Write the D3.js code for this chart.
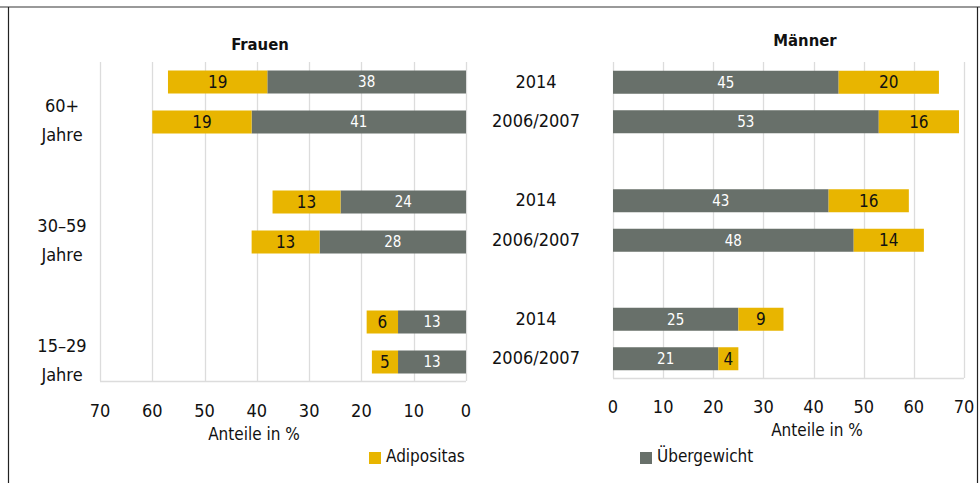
<!DOCTYPE html>
<html>
<head>
<meta charset="utf-8">
<script src="https://cdn.jsdelivr.net/npm/d3@7"></script>
<style>
    body { margin: 0; background: #fff; }
    svg { display: block; font-family: "DejaVu Sans Condensed", "Liberation Sans Narrow", sans-serif; }
</style>
</head>
<body>
<div id="chart"></div>
<script>

// Data
var groups = ['60+', '30–59', '15–29'];
var years = ['2014', '2006/2007'];
var frauenUeber = [38, 41, 24, 28, 13, 13];
var frauenAdipo = [19, 19, 13, 13, 6, 5];
var maennerUeber = [45, 53, 43, 48, 25, 21];
var maennerAdipo = [20, 16, 16, 14, 9, 4];
var xTicks = [0, 10, 20, 30, 40, 50, 60, 70];

// Set default values
var width = 980,
    height = 483,
    yellow = '#e8b500',
    grey = '#68706a',
    gridColor = '#dcdcdc',
    barHeight = 23
;

var svg = d3.select('#chart').append('svg')
    .attr('width', width)
    .attr('height', height)
;

// Frame
svg.append('line').attr('x1', 0).attr('x2', width).attr('y1', 7).attr('y2', 7)
    .attr('stroke', '#777').attr('stroke-width', 1.5);
svg.append('line').attr('x1', 8.5).attr('x2', 8.5).attr('y1', 7).attr('y2', height)
    .attr('stroke', '#222').attr('stroke-width', 1.2);
svg.append('line').attr('x1', 977.5).attr('x2', 977.5).attr('y1', 7).attr('y2', height)
    .attr('stroke', '#222').attr('stroke-width', 1.2);

// Build rows from the arrays
function rows(ueber, adipo) {
    var out = [];
    groups.forEach(function(g, gi) {
        years.forEach(function(y, yi) {
            var i = gi * years.length + yi;
            out.push({group: g, year: y, ueber: ueber[i], adipo: adipo[i]});
        });
    });
    return out;
}

// Inner scale for the two years inside one group
var inner = d3.scaleBand()
    .domain(years)
    .range([0, 120])
    .paddingInner(0.425)
    .paddingOuter(0.7125)
;

function panel(opts) {
    var x = d3.scaleLinear().domain([0, 70]).range(opts.xRange);
    var yGroup = d3.scaleBand().domain(groups).range(opts.yRange);
    var innerY = inner.copy().range([0, yGroup.bandwidth()]);
    var rowY = function(d) { return yGroup(d.group) + innerY(d.year) + (innerY.bandwidth() - barHeight) / 2; };
    var plotTop = 62, plotBottom = opts.bottom;

    var g = svg.append('g');

    // Grid lines
    g.selectAll('.grid').data(xTicks).enter().append('line')
        .attr('x1', function(d) { return Math.round(x(d)) + 0.5; })
        .attr('x2', function(d) { return Math.round(x(d)) + 0.5; })
        .attr('y1', plotTop).attr('y2', plotBottom)
        .attr('stroke', gridColor).attr('stroke-width', 1.3)
    ;
    g.append('line')
        .attr('x1', d3.min(opts.xRange)).attr('x2', d3.max(opts.xRange))
        .attr('y1', plotBottom + 0.5).attr('y2', plotBottom + 0.5)
        .attr('stroke', gridColor).attr('stroke-width', 1.3)
    ;

    // Tick labels
    g.selectAll('.tick').data(xTicks).enter().append('text')
        .attr('x', function(d) { return x(d); })
        .attr('y', opts.tickY)
        .attr('text-anchor', 'middle')
        .style('font-size', '18px')
        .attr('fill', '#111')
        .text(function(d) { return d; })
    ;

    // Axis title
    g.append('text')
        .attr('x', opts.axisTitleX).attr('y', opts.tickY + 23)
        .attr('text-anchor', 'middle')
        .style('font-size', '17px')
        .attr('fill', '#111')
        .text('Anteile in %')
    ;

    // Panel title
    g.append('text')
        .attr('x', opts.titleX).attr('y', opts.titleY)
        .attr('text-anchor', 'middle')
        .attr('font-weight', 'bold')
        .style('font-size', '16.5px')
        .attr('fill', '#111')
        .text(opts.title)
    ;

    var data = rows(opts.ueber, opts.adipo);
    var row = g.selectAll('.row').data(data).enter().append('g')
        .attr('transform', function(d) { return 'translate(0,' + rowY(d) + ')'; })
    ;

    // Übergewicht segment (from 0)
    row.append('rect')
        .attr('x', function(d) { return Math.min(x(0), x(d.ueber)); })
        .attr('width', function(d) { return Math.abs(x(d.ueber) - x(0)); })
        .attr('height', barHeight)
        .attr('fill', grey)
    ;
    // Adipositas segment (stacked)
    row.append('rect')
        .attr('x', function(d) { return Math.min(x(d.ueber), x(d.ueber + d.adipo)); })
        .attr('width', function(d) { return Math.abs(x(d.ueber + d.adipo) - x(d.ueber)); })
        .attr('height', barHeight)
        .attr('fill', yellow)
    ;
    row.append('text')
        .attr('x', function(d) { return x(d.ueber / 2); })
        .attr('y', barHeight / 2)
        .attr('dy', '0.36em')
        .attr('text-anchor', 'middle')
        .style('font-size', '15px')
        .attr('fill', '#fff')
        .text(function(d) { return d.ueber; })
    ;
    row.append('text')
        .attr('x', function(d) { return x(d.ueber + d.adipo / 2); })
        .attr('y', barHeight / 2)
        .attr('dy', '0.36em')
        .attr('text-anchor', 'middle')
        .style('font-size', '17px')
        .attr('fill', '#111')
        .text(function(d) { return d.adipo; })
    ;

    return {rowY: rowY, yGroup: yGroup};
}

var left = panel({
    title: 'Frauen', titleX: 260, titleY: 50,
    xRange: [466, 100], yRange: [42, 402], bottom: 381,
    tickY: 417, axisTitleX: 254,
    ueber: frauenUeber, adipo: frauenAdipo
});

var right = panel({
    title: 'Männer', titleX: 805, titleY: 46,
    xRange: [613, 964], yRange: [42.75, 398.25], bottom: 378,
    tickY: 413, axisTitleX: 817,
    ueber: maennerUeber, adipo: maennerAdipo
});

// Age group labels (left side)
groups.forEach(function(gr) {
    var cy = left.yGroup(gr) + left.yGroup.bandwidth() / 2;
    var t = svg.append('text')
        .attr('text-anchor', 'middle')
        .style('font-size', '18px')
        .attr('fill', '#111')
    ;
    t.append('tspan').attr('x', 62).attr('y', cy + 10).text(gr);
    t.append('tspan').attr('x', 62).attr('y', cy + 39).text('Jahre');
});

// Year labels (between panels)
rows(maennerUeber, maennerAdipo).forEach(function(d) {
    svg.append('text')
        .attr('x', 536)
        .attr('y', right.rowY(d) + barHeight / 2)
        .attr('dy', '0.3em')
        .attr('text-anchor', 'middle')
        .style('font-size', '18px')
        .attr('fill', '#111')
        .text(d.year)
    ;
});

// Legend
var legend = [
    {name: 'Adipositas', color: yellow, x: 369, y: 452},
    {name: 'Übergewicht', color: grey, x: 640, y: 452}
];
var leg = svg.selectAll('.legend').data(legend).enter().append('g')
    .attr('transform', function(d) { return 'translate(' + d.x + ',' + d.y + ')'; })
;
leg.append('rect').attr('width', 12).attr('height', 12).attr('fill', function(d) { return d.color; });
leg.append('text')
    .attr('x', 17).attr('y', 10)
    .style('font-size', '17px')
    .attr('fill', '#111')
    .text(function(d) { return d.name; })
;

</script>
</body>
</html>
